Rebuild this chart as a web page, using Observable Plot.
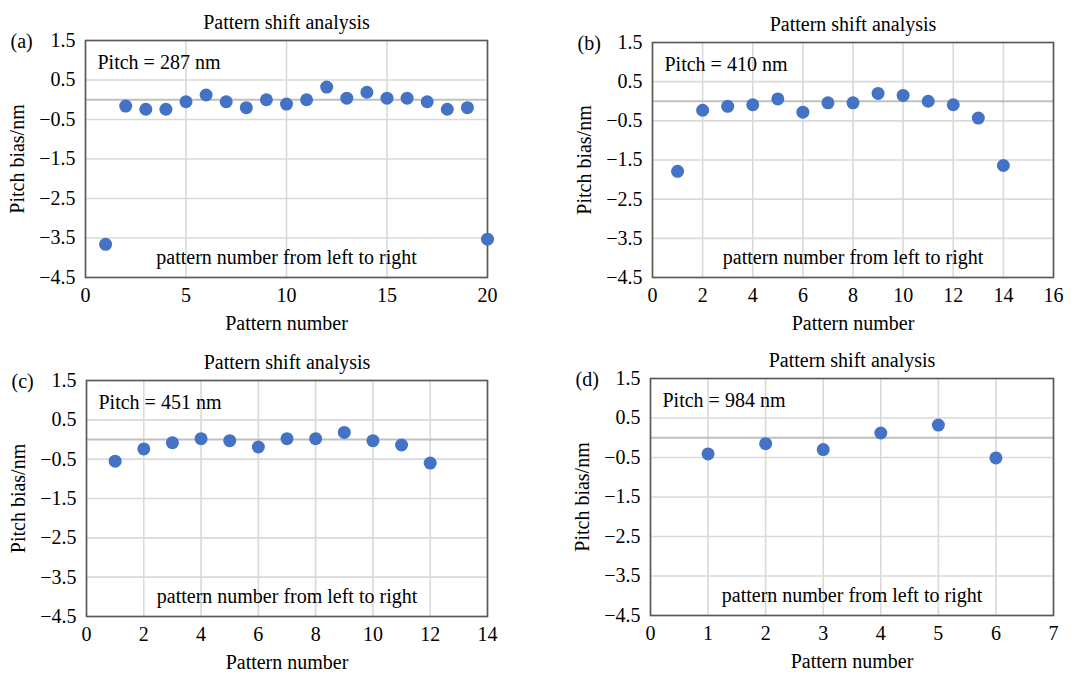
<!DOCTYPE html>
<html><head><meta charset="utf-8">
<script src="https://cdn.jsdelivr.net/npm/d3@7"></script>
<script src="https://cdn.jsdelivr.net/npm/@observablehq/plot@0.6"></script>
<style>
body{margin:0;background:#fff;}
#wrap{position:relative;width:1079px;height:674px;overflow:hidden;}
.panel{position:absolute;width:540px;height:337px;}
.panel svg{display:block;}
</style></head><body><div id="wrap"></div>
<script>
// ---- text ----
const titleText = "Pattern shift analysis";
const xAxisLabel = "Pattern number";
const yAxisLabel = "Pitch bias/nm";
const noteText = "pattern number from left to right";
const panelLetters = ["(a)", "(b)", "(c)", "(d)"];
const pitchLabels = ["Pitch = 287 nm", "Pitch = 410 nm", "Pitch = 451 nm", "Pitch = 984 nm"];
const yTicks = [1.5, 0.5, -0.5, -1.5, -2.5, -3.5, -4.5];

// ---- panel (a) ----
const patternA = [1, 2, 3, 4, 5, 6, 7, 8, 9, 10, 11, 12, 13, 14, 15, 16, 17, 18, 19, 20];
const biasA = [-3.66, -0.16, -0.24, -0.24, -0.05, 0.12, -0.05, -0.20, 0.00, -0.11, 0.00, 0.32, 0.04, 0.19, 0.04, 0.04, -0.05, -0.24, -0.20, -3.53];
const xTicksA = [0, 5, 10, 15, 20];

// ---- panel (b) ----
const patternB = [1, 2, 3, 4, 5, 6, 7, 8, 9, 10, 11, 12, 13, 14];
const biasB = [-1.79, -0.23, -0.13, -0.09, 0.06, -0.28, -0.04, -0.04, 0.20, 0.15, 0.00, -0.09, -0.43, -1.64];
const xTicksB = [0, 2, 4, 6, 8, 10, 12, 14, 16];

// ---- panel (c) ----
const patternC = [1, 2, 3, 4, 5, 6, 7, 8, 9, 10, 11, 12];
const biasC = [-0.55, -0.24, -0.08, 0.02, -0.03, -0.19, 0.02, 0.02, 0.18, -0.03, -0.14, -0.60];
const xTicksC = [0, 2, 4, 6, 8, 10, 12, 14];

// ---- panel (d) ----
const patternD = [1, 2, 3, 4, 5, 6];
const biasD = [-0.41, -0.15, -0.30, 0.12, 0.32, -0.51];
const xTicksD = [0, 1, 2, 3, 4, 5, 6, 7];

const panels = [
  {x: patternA, y: biasA, ticks: xTicksA, left: 0, top: 0, ml: 85, mr: 53, mt: 40, mb: 60},
  {x: patternB, y: biasB, ticks: xTicksB, left: 540, top: 0, ml: 112, mr: 27, mt: 42, mb: 60},
  {x: patternC, y: biasC, ticks: xTicksC, left: 0, top: 337, ml: 86, mr: 53, mt: 43, mb: 58},
  {x: patternD, y: biasD, ticks: xTicksD, left: 540, top: 337, ml: 110, mr: 27, mt: 41, mb: 59}
];

const wrap = document.getElementById("wrap");
const fmt = d3.format(".1f");
const FS = 20;
const txt = {fill: "#000", fontSize: FS, lineAnchor: "middle"};

panels.forEach((p, i) => {
  const data = p.x.map((x, k) => ({x, y: p.y[k]}));
  const xMax = p.ticks[p.ticks.length - 1];
  const chart = Plot.plot({
    width: 540,
    height: 337,
    marginLeft: p.ml, marginRight: p.mr, marginTop: p.mt, marginBottom: p.mb,
    style: {fontFamily: "'Liberation Serif', 'Times New Roman', serif", fontSize: FS + "px", color: "#000", background: "#fff"},
    x: {domain: [0, xMax]},
    y: {domain: [-4.5, 1.5]},
    marks: [
      Plot.gridY(yTicks, {stroke: "#d9d9d9", strokeOpacity: 1, strokeWidth: 1.6}),
      Plot.gridX(p.ticks, {stroke: "#d9d9d9", strokeOpacity: 1, strokeWidth: 1.6}),
      Plot.ruleY([0], {stroke: "#bfbfbf", strokeWidth: 2.2}),
      Plot.frame({stroke: "#595959", strokeWidth: 1.6}),
      Plot.axisY(yTicks, {tickSize: 0, tickPadding: 10, tickFormat: fmt, label: null, fill: "#000", fontSize: FS}),
      Plot.axisX(p.ticks, {tickSize: 0, tickPadding: 10, label: null, fill: "#000", fontSize: FS}),
      Plot.dot(data, {x: "x", y: "y", r: 6.5, fill: "#4472C4", stroke: "none"}),
      Plot.text([pitchLabels[i]], {...txt, frameAnchor: "top-left", textAnchor: "start", dx: 12, dy: 22}),
      Plot.text([noteText], {...txt, frameAnchor: "bottom", dy: -20}),
      Plot.text([titleText], {...txt, frameAnchor: "top", dy: -18}),
      Plot.text([panelLetters[i]], {...txt, frameAnchor: "top-left", textAnchor: "start", dx: -75, dy: 1}),
      Plot.text([yAxisLabel], {...txt, frameAnchor: "left", textAnchor: "middle", rotate: -90, dx: -68}),
      Plot.text([xAxisLabel], {...txt, frameAnchor: "bottom", dy: 46})
    ]
  });
  const div = document.createElement("div");
  div.className = "panel";
  div.style.left = p.left + "px";
  div.style.top = p.top + "px";
  div.appendChild(chart);
  wrap.appendChild(div);
});
</script>
</body></html>
